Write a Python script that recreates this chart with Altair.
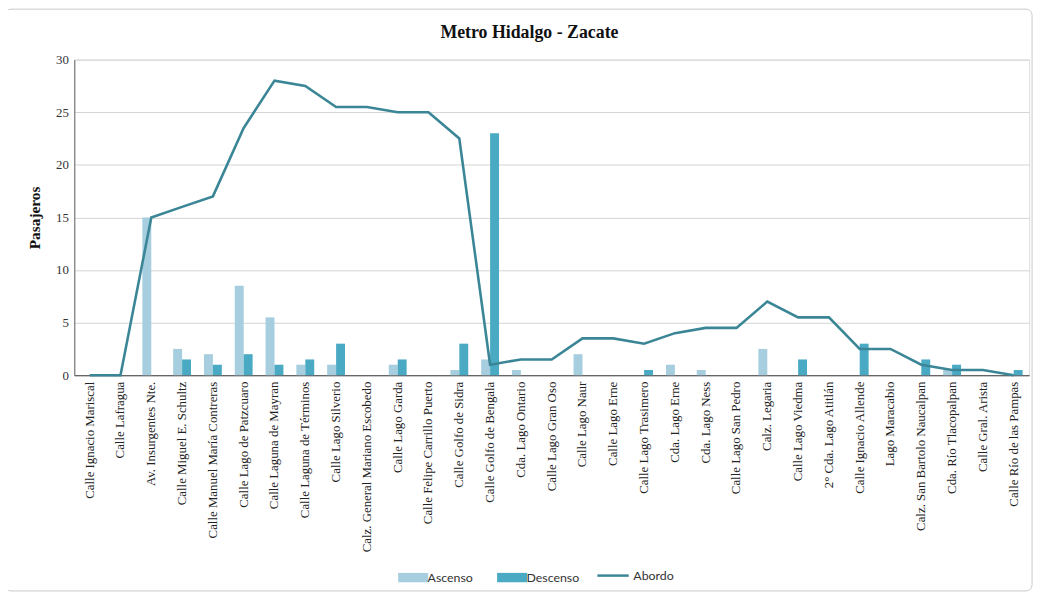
import altair as alt
import pandas as pd

categorias = [
    "Calle Ignacio Mariscal", "Calle Lafragua", "Av. Insurgentes Nte.",
    "Calle Miguel E. Schultz", "Calle Manuel María Contreras", "Calle Lago de Patzcuaro",
    "Calle Laguna de Mayran", "Calle Laguna de Términos", "Calle Lago Silverio",
    "Calz. General Mariano Escobedo", "Calle Lago Garda", "Calle Felipe Carrillo Puerto",
    "Calle Golfo de Sidra", "Calle Golfo de Bengala", "Cda. Lago Ontario",
    "Calle Lago Gran Oso", "Calle Lago Naur", "Calle Lago Erne", "Calle Lago Trasimero",
    "Cda. Lago Erne", "Cda. Lago Ness", "Calle Lago San Pedro", "Calz. Legaria",
    "Calle Lago Viedma", "2° Cda. Lago Atitlán", "Calle Ignacio Allende", "Lago Maracabio",
    "Calz. San Bartolo Naucalpan", "Cda. Río Tlacopalpan", "Calle Gral. Arista",
    "Calle Río de las Pampas",
]
ascenso = [0, 0, 15, 2.5, 2, 8.5, 5.5, 1, 1, 0, 1, 0, 0.5, 1.5, 0.5, 0, 2, 0, 0, 1, 0.5, 0,
           2.5, 0, 0, 0, 0, 0, 0.5, 0, 0]
descenso = [0, 0, 0, 1.5, 1, 2, 1, 1.5, 3, 0, 1.5, 0, 3, 23, 0, 0, 0, 0, 0.5, 0, 0, 0,
            0, 1.5, 0, 3, 0, 1.5, 1, 0, 0.5]
abordo = [0, 0, 15, 16, 17, 23.5, 28, 27.5, 25.5, 25.5, 25, 25, 22.5, 1, 1.5, 1.5, 3.5, 3.5,
          3, 4, 4.5, 4.5, 7, 5.5, 5.5, 2.5, 2.5, 1, 0.5, 0.5, 0]

titulo = "Metro Hidalgo  - Zacate"
series_barras = ["Ascenso", "Descenso"]
colores_barras = ["#a6cede", "#4aaac4"]
color_linea = "#3b8696"

barras = pd.DataFrame({
    "parada": categorias * 2,
    "serie": ["Ascenso"] * len(categorias) + ["Descenso"] * len(categorias),
    "valor": ascenso + descenso,
})
linea = pd.DataFrame({"parada": categorias, "serie": ["Abordo"] * len(categorias), "valor": abordo})

W, H = 965, 319
serif = "Liberation Serif"
sans = "Lato"

x_enc = alt.X("parada:N", sort=categorias,
              scale=alt.Scale(paddingInner=0.42, paddingOuter=0.21),
              axis=alt.Axis(title=None, labelAngle=270, labelFont=serif, labelFontSize=13,
                            labelColor="#222", ticks=False, domainColor="#444",
                            labelPadding=6, labelLimit=300))
y_enc = alt.Y("valor:Q", scale=alt.Scale(domain=[0, 30]),
              axis=alt.Axis(title="Pasajeros", values=[0, 5, 10, 15, 20, 25, 30],
                            titleFont=serif, titleFontSize=15.5, titleFontWeight="bold",
                            titleColor="#111", titlePadding=13,
                            labelFont=serif, labelFontSize=13, labelColor="#333",
                            ticks=False, labelPadding=6, domainColor="#666",
                            gridColor="#d4d4d4"))

bars = alt.Chart(barras).mark_bar().encode(
    x=x_enc,
    y=y_enc,
    xOffset=alt.XOffset("serie:N", sort=series_barras,
                        scale=alt.Scale(domain=series_barras, paddingInner=0, paddingOuter=0)),
    fill=alt.Fill("serie:N", sort=series_barras,
                  scale=alt.Scale(domain=series_barras, range=colores_barras),
                  legend=alt.Legend(title=None, orient="none", direction="horizontal",
                                    legendX=333, legendY=514,
                                    symbolType="M-1.6,-0.5L1.6,-0.5L1.6,0.5L-1.6,0.5Z",
                                    symbolSize=360, symbolStrokeWidth=0,
                                    labelFont=sans, labelFontSize=12.5, labelColor="#333",
                                    columnPadding=24, labelOffset=5)),
)

line = alt.Chart(linea).mark_line(strokeWidth=2.6).encode(
    x=alt.X("parada:N", sort=categorias),
    y="valor:Q",
    stroke=alt.Stroke("serie:N", scale=alt.Scale(domain=["Abordo"], range=[color_linea]),
                      legend=alt.Legend(title=None, orient="none", legendX=527, legendY=504,
                                        symbolType="stroke", symbolSize=1000,
                                        symbolStrokeWidth=2.5,
                                        labelFont=sans, labelFontSize=12.5, labelColor="#333",
                                        labelOffset=3)),
)

uno = pd.DataFrame({"k": [0]})
borde = alt.Chart(uno).mark_rect(
    fill=None, stroke="#c8c8c8", strokeWidth=1, cornerRadius=6
).encode(x=alt.value(-70), x2=alt.value(968), y=alt.value(-51), y2=alt.value(537))

texto_titulo = alt.Chart(uno).mark_text(
    font=serif, fontSize=18, fontWeight="bold", color="#111", align="center",
    baseline="middle"
).encode(x=alt.value(460), y=alt.value(-27), text=alt.value(titulo))

chart = alt.layer(borde, texto_titulo, bars, line).resolve_scale(x="shared").properties(
    width=W, height=H,
    autosize=alt.AutoSizeParams(type="none"),
    padding={"left": 67, "top": 49, "right": 10, "bottom": 223},
).configure_view(stroke=None).configure(background="white")

chart.save("out.html", embed_options={"renderer": "svg", "actions": False})
